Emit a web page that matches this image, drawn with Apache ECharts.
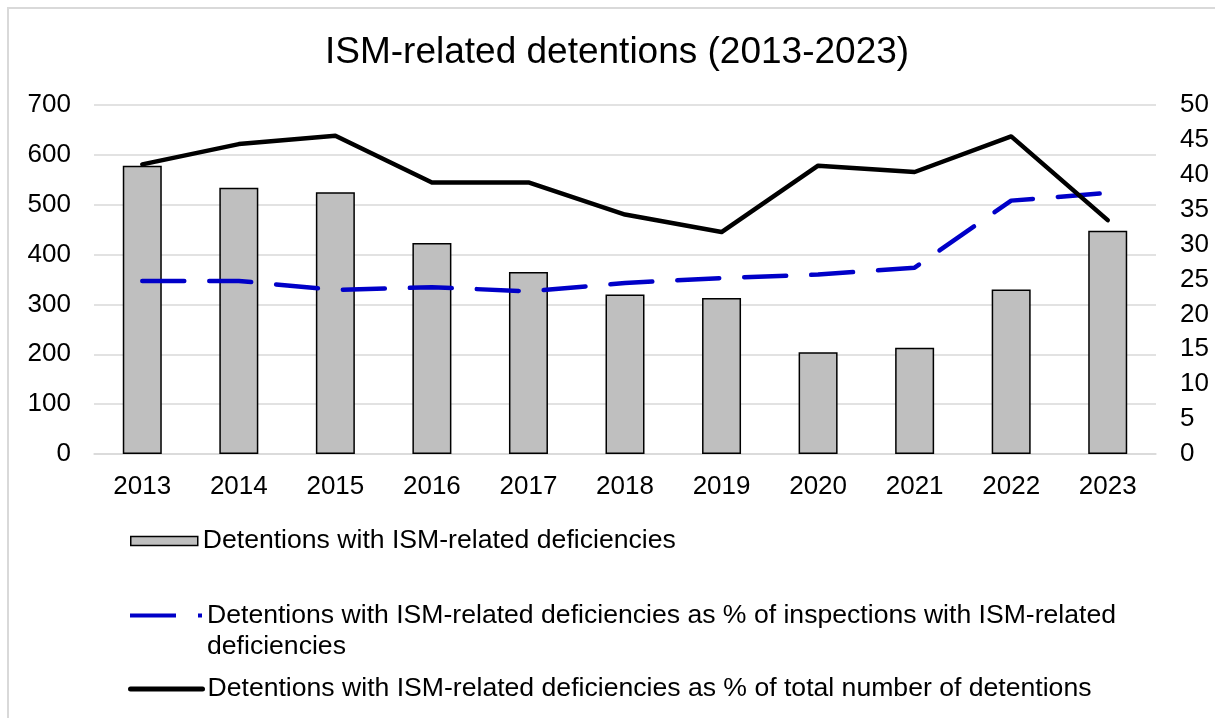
<!DOCTYPE html>
<html>
<head>
<meta charset="utf-8">
<script src="https://cdn.jsdelivr.net/npm/echarts@6/dist/echarts.min.js"></script>
<style>
  html, body { margin: 0; padding: 0; background: #ffffff; }
  #wrap { position: relative; width: 1215px; height: 718px; overflow: hidden; }
  #frame { position: absolute; left: 7px; top: 7px; width: 1300px; height: 800px;
           border-top: 2px solid #d9d9d9; border-left: 2px solid #d9d9d9; }
  #chart { position: absolute; left: 0; top: 0; width: 1215px; height: 718px; }
</style>
</head>
<body>
<div id="wrap">
  <div id="frame"></div>
  <div id="chart"></div>
</div>
<script>
// Years on the category axis
const years = ['2013', '2014', '2015', '2016', '2017', '2018', '2019', '2020', '2021', '2022', '2023'];

// Number of detentions with ISM-related deficiencies (left axis)
const detentions = [578, 534, 525, 423, 365, 320, 313, 204, 213, 330, 448];

// Detentions as % of inspections with ISM-related deficiencies (right axis)
const pctOfInspections = [24.8, 24.8, 23.5, 23.9, 23.3, 24.5, 25.2, 25.7, 26.7, 36.3, 37.4];

// Detentions as % of total number of detentions (right axis)
const pctOfDetentions = [41.5, 44.4, 45.6, 38.9, 38.9, 34.3, 31.8, 41.3, 40.4, 45.5, 33.5];

const nameBars = 'Detentions with ISM-related deficiencies';
const nameInspections = 'Detentions with ISM-related deficiencies as % of inspections with ISM-related deficiencies';
const nameTotal = 'Detentions with ISM-related deficiencies as % of total number of detentions';

const FONT = '"Liberation Sans", Arial, sans-serif';
const BLUE = '#0000c8';
const LEGEND_SIZE = 26.6;

const chart = echarts.init(document.getElementById('chart'), null, { renderer: 'canvas' });

const legendText = { fontFamily: FONT, fontSize: LEGEND_SIZE, color: '#000', lineHeight: 28 };
const hiddenDot = { color: 'rgba(0,0,0,0)', borderColor: 'rgba(0,0,0,0)', borderWidth: 0 };

chart.setOption({
  animation: false,
  backgroundColor: 'transparent',
  textStyle: { fontFamily: FONT },
  title: {
    text: 'ISM-related detentions (2013-2023)',
    left: 325,
    top: 34,
    padding: 0,
    textStyle: { fontFamily: FONT, fontSize: 37, fontWeight: 'normal', color: '#000' }
  },
  grid: { left: 94, right: 59, top: 105, bottom: 264, containLabel: false },
  legend: [
    {
      left: 130, top: 527, padding: 0, orient: 'vertical',
      itemWidth: 67, itemHeight: 9,
      textStyle: legendText,
      data: [{ name: nameBars, icon: 'rect',
               itemStyle: { color: '#bfbfbf', borderColor: '#000', borderWidth: 1.5 } }]
    },
    {
      left: 128, top: 569, padding: 0, orient: 'vertical',
      itemWidth: 72, itemHeight: 4,
      textStyle: { fontFamily: FONT, fontSize: LEGEND_SIZE, color: '#000', lineHeight: 31 },
      // label wraps onto a second line; the blank leading line keeps the
      // first printed line level with the key
      formatter: function (n) {
        return '\n' + n.replace(' of inspections with ISM-related deficiencies', ' of inspections with ISM-related\ndeficiencies');
      },
      itemStyle: hiddenDot,
      lineStyle: { color: BLUE, width: 4, type: [46, 22], cap: 'butt' },
      data: [{ name: nameInspections }]
    },
    {
      left: 128, top: 675, padding: 0, orient: 'vertical',
      itemWidth: 72, itemHeight: 4,
      textStyle: legendText,
      itemStyle: hiddenDot,
      lineStyle: { color: '#000', width: 5, type: 'solid', cap: 'round' },
      data: [{ name: nameTotal }]
    }
  ],
  xAxis: {
    type: 'category',
    data: years,
    boundaryGap: true,
    axisLine: { show: true, lineStyle: { color: '#d9d9d9', width: 1.5 } },
    axisTick: { show: false },
    axisLabel: { fontFamily: FONT, fontSize: 26, color: '#000', margin: 20 }
  },
  yAxis: [
    {
      type: 'value', min: 0, max: 700, interval: 100,
      axisLine: { show: false }, axisTick: { show: false },
      axisLabel: { fontFamily: FONT, fontSize: 26, color: '#000', margin: 23 },
      splitLine: { show: true, lineStyle: { color: '#d9d9d9', width: 1.5 } }
    },
    {
      type: 'value', min: 0, max: 50, interval: 5,
      axisLine: { show: false }, axisTick: { show: false },
      axisLabel: { fontFamily: FONT, fontSize: 26, color: '#000', margin: 24 },
      splitLine: { show: false }
    }
  ],
  series: [
    {
      name: nameBars,
      type: 'bar',
      yAxisIndex: 0,
      data: detentions,
      barWidth: 39,
      itemStyle: { color: '#bfbfbf', borderColor: '#000', borderWidth: 1.5 },
      z: 2
    },
    {
      name: nameInspections,
      type: 'line',
      yAxisIndex: 1,
      data: pctOfInspections,
      symbol: 'none',
      lineStyle: { color: BLUE, width: 4.5, type: [42, 25], cap: 'round', join: 'round' },
      itemStyle: { color: BLUE },
      z: 3
    },
    {
      name: nameTotal,
      type: 'line',
      yAxisIndex: 1,
      data: pctOfDetentions,
      symbol: 'none',
      lineStyle: { color: '#000', width: 4.5, cap: 'round', join: 'round' },
      itemStyle: { color: '#000' },
      z: 4
    }
  ]
});
</script>
</body>
</html>
